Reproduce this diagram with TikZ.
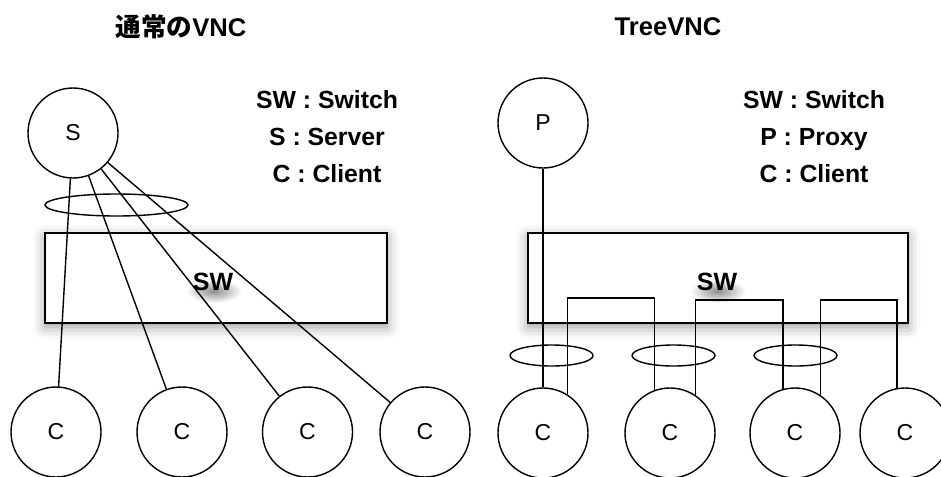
\documentclass[tikz,border=0pt]{standalone}
\usepackage{fontspec}
\setmainfont{Liberation Sans}
\newfontfamily\jpfont{Noto Sans CJK JP}
\usetikzlibrary{shadows.blur}

\begin{document}
\begin{tikzpicture}[x=0.5pt, y=-0.5pt]
     % Define styles
     \tikzstyle{host} = [circle, draw, line width=0.7pt, minimum size=45pt, inner sep=0pt, font=\fontsize{11.5}{13}\selectfont]
     \tikzstyle{switchbox} = [draw, line width=0.7pt, fill=white, minimum height=45pt, inner sep=0pt, blur shadow={shadow xshift=0pt, shadow yshift=-2pt, shadow blur radius=6pt, shadow opacity=40}]
     \tikzstyle{link} = [line width=0.7pt]
     \tikzstyle{title} = [font=\bfseries\fontsize{12.8}{14}\selectfont]
     \tikzstyle{legend} = [align=center, font=\bfseries\fontsize{12.4}{18.5}\selectfont]
     \tikzstyle{swlabel} = [font=\bfseries\fontsize{12.5}{14}\selectfont]

     \useasboundingbox (0,0) rectangle (941,476);

     % Titles
     \node[title] (titleL) at (181,27) {{\jpfont\bfseries 通常の}VNC};
     \node[title] (titleR) at (668,27) {TreeVNC};

     % Legends
     \node[legend] (keyL) at (327,136.5) {SW : Switch\\S : Server\\C : Client};
     \node[legend] (keyR) at (814,136.5) {SW : Switch\\P : Proxy\\C : Client};

     % Switches
     \node[switchbox, minimum width=171pt] (swL) at (216,278) {};
     \node[switchbox, minimum width=190pt] (swR) at (718,278) {};
     \shade[inner color=black!45, outer color=white] (214,291) ellipse [x radius=28, y radius=12];
     \shade[inner color=black!45, outer color=white] (718,291) ellipse [x radius=28, y radius=12];
     \node[swlabel] (swtextL) at (213,282) {SW};
     \node[swlabel] (swtextR) at (717,282) {SW};

     % Server and proxy
     \node[host] (S) at (73,133) {S};
     \node[host] (P) at (543,123) {P};

     % Clients
     \node[host] (cL1) at (56,432) {C};
     \node[host] (cL2) at (182,432) {C};
     \node[host] (cL3) at (307.5,432) {C};
     \node[host] (cL4) at (425,432) {C};
     \node[host] (cR1) at (543,433) {C};
     \node[host] (cR2) at (670,433) {C};
     \node[host] (cR3) at (795,433) {C};
     \node[host] (cR4) at (905,433) {C};

     % Usual VNC: every client to the server
     \foreach \c in {cL1,cL2,cL3,cL4} {
          \draw[link] (S) -- (\c);
     }
     \draw[link] (116.5,205) ellipse [x radius=71.5, y radius=11];

     % TreeVNC: proxy to first client, then client to client
     \coordinate (busA) at (0,298);
     \coordinate (busB) at (0,300);
     \draw[link] (P) -- (cR1);
     \draw[link] (cR1.58) -- (cR1.58 |- busA) -| (cR2.110);
     \draw[link] (cR2.56) -- (cR2.56 |- busB) -| (cR3.105);
     \draw[link] (cR3.56) -- (cR3.56 |- busB) -| (cR4.100);

     \foreach \x in {551.5,673.5,795.5} {
          \draw[link] (\x,355.5) ellipse [x radius=41.5, y radius=10.5];
     }

\end{tikzpicture}
\end{document}
